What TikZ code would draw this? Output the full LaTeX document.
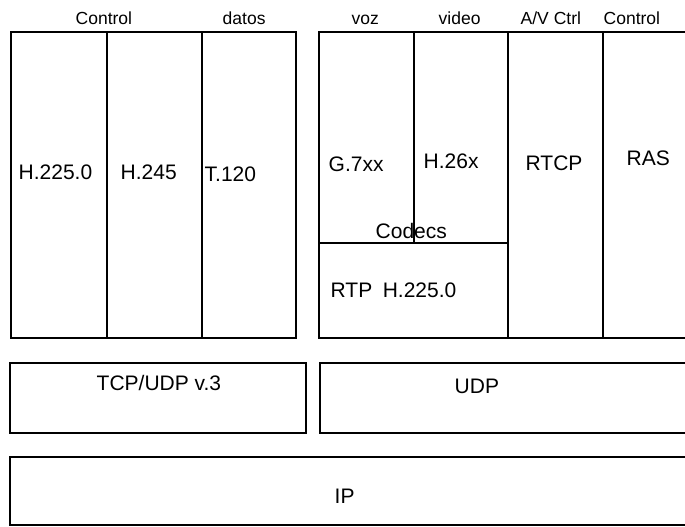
\documentclass[tikz,border=0pt]{standalone}
\usepackage{fontspec}
\setmainfont{Liberation Sans}
\begin{document}
\begin{tikzpicture}[x=1pt,y=-1pt,line width=1.4pt,
  lbl/.style={font=\fontsize{21}{21}\selectfont,inner sep=0pt,anchor=base west},
  hdr/.style={font=\fontsize{17.5}{17.5}\selectfont,inner sep=0pt,anchor=base west},
  frame/.style={draw=black,line width=1.4pt}]
\useasboundingbox (0,0) rectangle (685,527);
% upper left block
\draw[frame] (11,32) rectangle (296,338);
\draw[frame] (107,32) -- (107,338);
\draw[frame] (202,32) -- (202,338);
% upper right block
\draw[frame] (685,32) -- (319,32) -- (319,338) -- (685,338);
\draw[frame] (414,32) -- (414,243);
\draw[frame] (319,243) -- (508,243);
\draw[frame] (508,32) -- (508,338);
\draw[frame] (603,32) -- (603,338);
% transport row
\draw[frame] (10,363) rectangle (306,433);
\draw[frame] (685,363) -- (320,363) -- (320,433) -- (685,433);
% IP row
\draw[frame] (685,457) -- (10,457) -- (10,525) -- (685,525);
% headers
\node[hdr] (hctl1) at (75,25) {Control};
\node[hdr] (hdat) at (222,25) {datos};
\node[hdr] (hvoz) at (351,25) {voz};
\node[hdr] (hvid) at (438,25) {video};
\node[hdr] (hav) at (520,25) {A/V Ctrl};
\node[hdr] (hctl2) at (603,25) {Control};
% cell labels
\node[lbl] (h2250) at (18,179) {H.225.0};
\node[lbl] (h245) at (120,179) {H.245};
\node[lbl] (t120) at (204,181) {T.120};
\node[lbl] (g7xx) at (328,171) {G.7xx};
\node[lbl] (h26x) at (423,168) {H.26x};
\node[lbl] (rtcp) at (525,170) {RTCP};
\node[lbl] (ras) at (626,165) {RAS};
\node[lbl] (codecs) at (375,238) {Codecs};
\node[lbl] (rtp) at (330,297) {RTP\hspace{0.5em}H.225.0};
\node[lbl] (tcp) at (96,390) {TCP/UDP v.3};
\node[lbl] (udp) at (454,393) {UDP};
\node[lbl] (ip) at (334,503) {IP};
\end{tikzpicture}
\end{document}
